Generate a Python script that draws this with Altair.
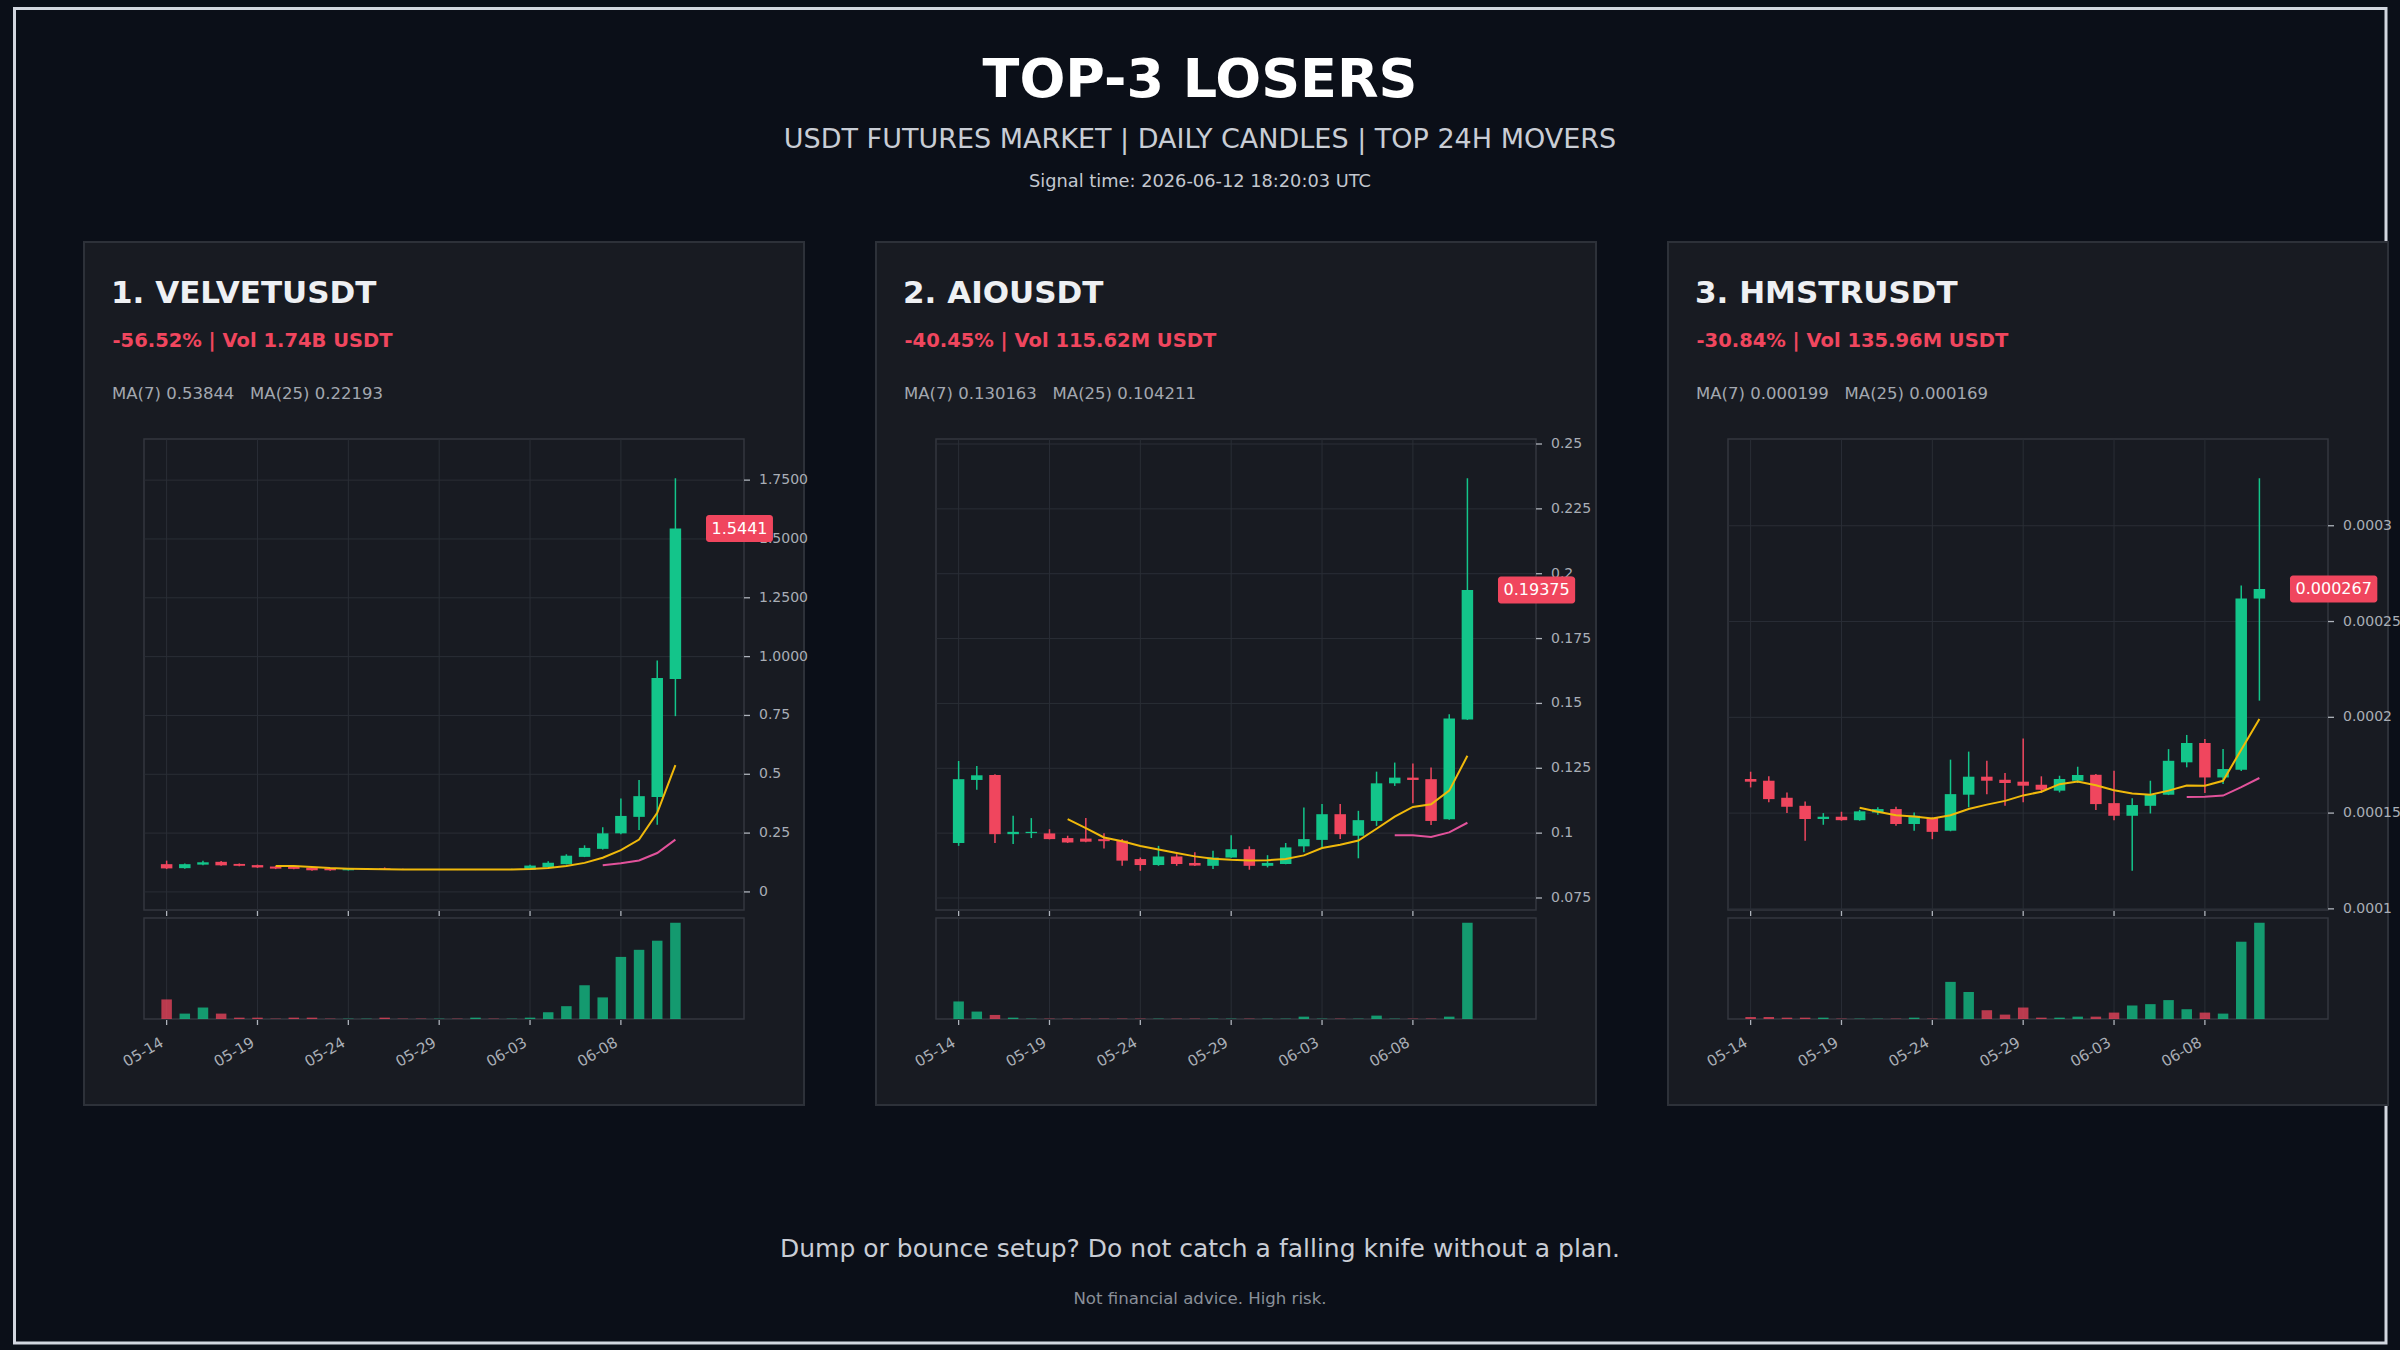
import altair as alt
import numpy as np
import pandas as pd

W, H = 2400, 1350
FONT = "DejaVu Sans"

# ---------------- text ----------------
TITLE = "TOP-3 LOSERS"
SUBTITLE = "USDT FUTURES MARKET | DAILY CANDLES | TOP 24H MOVERS"
SIGNAL_TIME = "Signal time: 2026-06-12 18:20:03 UTC"
FOOTER = "Dump or bounce setup? Do not catch a falling knife without a plan."
DISCLAIMER = "Not financial advice. High risk."

SYMBOLS = ["1. VELVETUSDT", "2. AIOUSDT", "3. HMSTRUSDT"]
CHANGE_TEXT = ["-56.52% | Vol 1.74B USDT", "-40.45% | Vol 115.62M USDT", "-30.84% | Vol 135.96M USDT"]
MA_TEXT = ["MA(7) 0.53844\u00a0\u00a0\u00a0MA(25) 0.22193",
           "MA(7) 0.130163\u00a0\u00a0\u00a0MA(25) 0.104211",
           "MA(7) 0.000199\u00a0\u00a0\u00a0MA(25) 0.000169"]
LAST_PRICE = ["1.5441", "0.19375", "0.000267"]

# ---------------- categories / ticks ----------------
DATES = list(pd.date_range("2026-05-14", periods=29).strftime("%Y-%m-%dT00:00:00"))
X_TICKS = ["2026-05-14", "2026-05-19", "2026-05-24", "2026-05-29", "2026-06-03", "2026-06-08"]
X_TICK_LABELS = ["05-14", "05-19", "05-24", "05-29", "06-03", "06-08"]

Y_TICKS_1 = [0, 0.25, 0.5, 0.75, 1.0, 1.25, 1.5, 1.75]
Y_LABELS_1 = ["0", "0.25", "0.5", "0.75", "1.0000", "1.2500", "1.5000", "1.7500"]
Y_TICKS_2 = [0.075, 0.1, 0.125, 0.15, 0.175, 0.2, 0.225, 0.25]
Y_LABELS_2 = ["0.075", "0.1", "0.125", "0.15", "0.175", "0.2", "0.225", "0.25"]
Y_TICKS_3 = [0.0001, 0.00015, 0.0002, 0.00025, 0.0003]
Y_LABELS_3 = ["0.0001", "0.00015", "0.0002", "0.00025", "0.0003"]

# ---------------- VELVETUSDT ----------------
OPEN_1 = [0.118, 0.101, 0.116, 0.128, 0.119, 0.114, 0.108, 0.107, 0.103, 0.100,
          0.092, 0.096, 0.100, 0.097, 0.095, 0.094, 0.095, 0.094, 0.096, 0.095,
          0.094, 0.105, 0.118, 0.149, 0.183, 0.249, 0.319, 0.403, 0.905]
HIGH_1 = [0.133, 0.121, 0.132, 0.131, 0.121, 0.116, 0.110, 0.109, 0.105, 0.102,
          0.099, 0.101, 0.104, 0.098, 0.096, 0.097, 0.096, 0.097, 0.097, 0.098,
          0.115, 0.130, 0.160, 0.198, 0.275, 0.397, 0.476, 0.983, 1.758]
LOW_1 = [0.097, 0.099, 0.113, 0.111, 0.109, 0.102, 0.097, 0.096, 0.090, 0.090,
         0.091, 0.095, 0.095, 0.094, 0.093, 0.093, 0.093, 0.093, 0.094, 0.094,
         0.093, 0.104, 0.117, 0.148, 0.180, 0.245, 0.263, 0.285, 0.747]
CLOSE_1 = [0.100, 0.118, 0.126, 0.113, 0.111, 0.104, 0.099, 0.098, 0.092, 0.092,
           0.097, 0.099, 0.096, 0.095, 0.094, 0.095, 0.094, 0.096, 0.095, 0.096,
           0.112, 0.124, 0.154, 0.187, 0.249, 0.323, 0.407, 0.909, 1.5441]
VOL_1 = [58, 16, 34, 16, 4, 4, 1, 4, 4, 1, 1, 1, 4, 1, 1, 1, 1, 4, 1, 1,
         4, 20, 38, 100, 64, 184, 205, 232, 285]

# ---------------- AIOUSDT ----------------
OPEN_2 = [0.0962, 0.1205, 0.1224, 0.0996, 0.1000, 0.0999, 0.0981, 0.0979, 0.0977, 0.0971,
          0.0900, 0.0877, 0.0910, 0.0885, 0.0874, 0.0906, 0.0938, 0.0874, 0.0881, 0.0949,
          0.0974, 0.1073, 0.0990, 0.1047, 0.1192, 0.1214, 0.1208, 0.1054, 0.1438]
HIGH_2 = [0.1278, 0.1259, 0.1227, 0.1067, 0.1058, 0.1015, 0.0990, 0.1058, 0.1000, 0.0977,
          0.0906, 0.0951, 0.0919, 0.0926, 0.0932, 0.0992, 0.0949, 0.0915, 0.0962, 0.1099,
          0.1112, 0.1112, 0.1086, 0.1237, 0.1272, 0.1268, 0.1253, 0.1458, 0.2368]
LOW_2 = [0.0951, 0.1167, 0.0962, 0.0958, 0.0981, 0.0976, 0.0962, 0.0965, 0.0941, 0.0874,
         0.0855, 0.0874, 0.0874, 0.0873, 0.0862, 0.0905, 0.0859, 0.0868, 0.0880, 0.0926,
         0.0945, 0.0977, 0.0903, 0.1028, 0.1182, 0.1115, 0.1031, 0.1052, 0.1436]
CLOSE_2 = [0.1208, 0.1223, 0.0996, 0.1005, 0.1005, 0.0977, 0.0964, 0.0967, 0.0969, 0.0894,
           0.0877, 0.0910, 0.0881, 0.0875, 0.0906, 0.0938, 0.0874, 0.0885, 0.0945, 0.0977,
           0.1073, 0.0996, 0.1050, 0.1192, 0.1214, 0.1205, 0.1047, 0.1442, 0.19375]
VOL_2 = [52, 22, 12, 4, 1, 1, 1, 1, 1, 1, 1, 1, 1, 1, 1, 1, 1, 1, 1, 7,
         1, 1, 1, 10, 1, 1, 1, 7, 285]

# ---------------- HMSTRUSDT ----------------
OPEN_3 = [0.0001678, 0.0001669, 0.0001580, 0.0001538, 0.0001469, 0.0001481, 0.0001463, 0.0001503,
          0.0001521, 0.0001443, 0.0001474, 0.0001408, 0.0001596, 0.0001690, 0.0001674, 0.0001664,
          0.0001648, 0.0001617, 0.0001669, 0.0001700, 0.0001552, 0.0001486, 0.0001538, 0.0001596,
          0.0001765, 0.0001866, 0.0001686, 0.0001726, 0.0002620]
HIGH_3 = [0.0001716, 0.0001692, 0.0001608, 0.0001561, 0.0001500, 0.0001507, 0.0001517, 0.0001530,
          0.0001533, 0.0001503, 0.0001478, 0.0001779, 0.0001821, 0.0001773, 0.0001709, 0.0001890,
          0.0001692, 0.0001695, 0.0001742, 0.0001704, 0.0001721, 0.0001577, 0.0001669, 0.0001834,
          0.0001908, 0.0001887, 0.0001834, 0.0002688, 0.0003248]
LOW_3 = [0.0001634, 0.0001556, 0.0001500, 0.0001355, 0.0001439, 0.0001460, 0.0001460, 0.0001491,
         0.0001434, 0.0001408, 0.0001364, 0.0001405, 0.0001530, 0.0001599, 0.0001538, 0.0001556,
         0.0001605, 0.0001608, 0.0001657, 0.0001516, 0.0001463, 0.0001199, 0.0001498, 0.0001594,
         0.0001739, 0.0001605, 0.0001652, 0.0001720, 0.0002087]
CLOSE_3 = [0.0001664, 0.0001573, 0.0001533, 0.0001469, 0.0001481, 0.0001463, 0.0001509, 0.0001521,
           0.0001443, 0.0001486, 0.0001402, 0.0001599, 0.0001690, 0.0001669, 0.0001657, 0.0001643,
           0.0001622, 0.0001678, 0.0001699, 0.0001547, 0.0001486, 0.0001542, 0.0001596, 0.0001773,
           0.0001866, 0.0001686, 0.0001730, 0.0002620, 0.000267]
VOL_3 = [6, 6, 4, 4, 4, 1, 1, 1, 1, 4, 1, 110, 80, 26, 13, 34, 4, 4, 7, 7,
         19, 40, 44, 56, 29, 19, 16, 229, 285]

# ---------------- style / layout ----------------
BG = "#0b0f18"
PANEL_BG = "#181b22"
PANEL_STROKE = "#2d3139"
FRAME = "#d3d7e0"
GRID = "#2a2e36"
SPINE = "#33373f"
TICK = "#aeb3bb"
AXIS_LABEL = "#a9aeb6"
UP = "#13c58a"
DOWN = "#f0465e"
MA7_COLOR = "#f0b90b"
MA25_COLOR = "#e2529b"

PANEL_X = [84, 876, 1668]
PANEL_W = 720
PANEL_TOP, PANEL_BOTTOM = 242, 1105
PLOT_L, PLOT_R = 60, 660
PRICE_TOP, PRICE_BOTTOM = 439, 910
VOL_TOP, VOL_BOTTOM = 918, 1019

X_DOMAIN = [alt.DateTime(year=2026, month=5, date=13, hours=0, minutes=43),
            alt.DateTime(year=2026, month=6, date=14, hours=12)]
X_TICK_ISO = [t + "T00:00:00" for t in X_TICKS]

ONE = pd.DataFrame({"k": [0]})


def box(x1, x2, y1, y2, fill, stroke, sw, fill_opacity=1.0):
    return alt.Chart(ONE).mark_rect(fill=fill, fillOpacity=fill_opacity, stroke=stroke,
                                    strokeWidth=sw).encode(
        x=alt.value(x1), x2=alt.value(x2), y=alt.value(y1), y2=alt.value(y2))


def label(text, x, y, size, color, weight="normal", align="center"):
    return alt.Chart(pd.DataFrame({"t": [text]})).mark_text(
        font=FONT, fontSize=size, color=color, fontWeight=weight, align=align,
        baseline="alphabetic").encode(x=alt.value(x), y=alt.value(y), text="t:N")


def build_panel(p, O, HI, LO, C, V, y_ticks, y_labels):
    ox = PANEL_X[p]
    xl, xr = ox + PLOT_L, ox + PLOT_R
    df = pd.DataFrame({"date": DATES, "open": O, "high": HI, "low": LO, "close": C, "volume": V})
    df["dir"] = np.where(df["close"] >= df["open"], "up", "down")
    lo, hi = min(LO), max(HI)
    pad = 0.1 * (hi - lo)
    xs = alt.Scale(domain=X_DOMAIN, range=[xl, xr])
    ys = alt.Scale(domain=[lo - pad, hi + pad], range=[PRICE_BOTTOM, PRICE_TOP], nice=False, zero=False)
    vs = alt.Scale(domain=[0, max(V) * 1.05], range=[VOL_BOTTOM, VOL_TOP], nice=False, zero=False)
    col = alt.Color("dir:N", scale=alt.Scale(domain=["up", "down"], range=[UP, DOWN]), legend=None)
    X = alt.X("date:T", scale=xs, axis=None)
    XT = alt.X("d:T", scale=xs, axis=None)
    base = alt.Chart(df)
    ticks_df = pd.DataFrame({"d": X_TICK_ISO, "lab": X_TICK_LABELS})
    yt_df = pd.DataFrame({"v": y_ticks, "lab": y_labels})
    tick_chart = alt.Chart(ticks_df)

    # ---- price pane ----
    xgrid_p = tick_chart.mark_rule(color=GRID, strokeWidth=1).encode(
        x=XT, y=alt.value(PRICE_TOP), y2=alt.value(PRICE_BOTTOM))
    xtick_p = tick_chart.mark_rule(color=TICK, strokeWidth=1.3).encode(
        x=XT, y=alt.value(PRICE_BOTTOM + 1), y2=alt.value(PRICE_BOTTOM + 6))
    ygrid = alt.Chart(yt_df).mark_rule(color=GRID, strokeWidth=1).encode(
        y=alt.Y("v:Q", scale=ys, axis=None), x=alt.value(xl), x2=alt.value(xr))
    ytick = alt.Chart(yt_df).mark_rule(color=TICK, strokeWidth=1.3).encode(
        y=alt.Y("v:Q", scale=ys, axis=None), x=alt.value(xr), x2=alt.value(xr + 6))
    ylab = alt.Chart(yt_df).mark_text(font=FONT, fontSize=14, color=AXIS_LABEL, align="left",
                                       baseline="middle").encode(
        y=alt.Y("v:Q", scale=ys, axis=None), x=alt.value(xr + 15), text="lab:N")
    wick = base.mark_rule(strokeWidth=1.5).encode(
        x=X, y=alt.Y("low:Q", scale=ys, axis=None), y2="high:Q", color=col)
    body = base.mark_bar(width=11.5).encode(
        x=X, y=alt.Y("open:Q", scale=ys, axis=None), y2="close:Q", color=col)
    ma7 = base.transform_window(
        ma="mean(close)", n="count()", frame=[-6, 0], sort=[alt.SortField("date")]
    ).transform_filter("datum.n >= 7").mark_line(color=MA7_COLOR, strokeWidth=2).encode(
        x=X, y=alt.Y("ma:Q", scale=ys, axis=None))
    ma25 = base.transform_window(
        ma="mean(close)", n="count()", frame=[-24, 0], sort=[alt.SortField("date")]
    ).transform_filter("datum.n >= 25").mark_line(color=MA25_COLOR, strokeWidth=2).encode(
        x=X, y=alt.Y("ma:Q", scale=ys, axis=None))

    txt = LAST_PRICE[p]
    text_w = 16 * sum(0.318 if ch == "." else 0.636 for ch in txt)
    bx = ox + 622
    last_df = pd.DataFrame({"close": [C[-1]], "label": [txt]})
    lbox = alt.Chart(last_df).mark_rect(color=DOWN, cornerRadius=3, yOffset=-13.5, y2Offset=13.5).encode(
        y=alt.Y("close:Q", scale=ys, axis=None), y2="close:Q",
        x=alt.value(bx), x2=alt.value(bx + text_w + 11))
    ltext = alt.Chart(last_df).mark_text(font=FONT, fontSize=16, color="#ffffff", align="left",
                                         baseline="middle").encode(
        y=alt.Y("close:Q", scale=ys, axis=None), x=alt.value(bx + 5.5), text="label:N")
    price = alt.layer(ygrid, xgrid_p, xtick_p, ytick, ylab, wick, body, ma7, ma25, lbox, ltext)

    # ---- volume pane ----
    xgrid_v = tick_chart.mark_rule(color=GRID, strokeWidth=1).encode(
        x=XT, y=alt.value(VOL_TOP), y2=alt.value(VOL_BOTTOM))
    xtick_v = tick_chart.mark_rule(color=TICK, strokeWidth=1.3).encode(
        x=XT, y=alt.value(VOL_BOTTOM + 1), y2=alt.value(VOL_BOTTOM + 6))
    xlab = tick_chart.mark_text(font=FONT, fontSize=15, color=AXIS_LABEL, align="right",
                                baseline="top", angle=330, xOffset=-8).encode(
        x=XT, y=alt.value(VOL_BOTTOM + 16), text="lab:N")
    vbars = base.mark_bar(width=10.5, opacity=0.75).encode(
        x=X, y=alt.Y("volume:Q", scale=vs, axis=None), color=col)
    volume = alt.layer(xgrid_v, xtick_v, xlab, vbars)

    return [
        box(xl, xr, PRICE_TOP, PRICE_BOTTOM, PANEL_BG, SPINE, 1.5, 0),
        box(xl, xr, VOL_TOP, VOL_BOTTOM, PANEL_BG, SPINE, 1.5, 0),
        label(SYMBOLS[p], ox + 27, 303, 31, "#eef0f3", "bold", "left"),
        label(CHANGE_TEXT[p], ox + 28.5, 347, 19.5, DOWN, "bold", "left"),
        label(MA_TEXT[p], ox + 28, 399, 16.5, "#a3a8b0", "normal", "left"),
        price,
        volume,
    ]


layers = [box(14.5, 2386, 8.5, 1343, BG, FRAME, 3)]
for px in PANEL_X:
    layers.append(box(px, px + PANEL_W, PANEL_TOP, PANEL_BOTTOM, PANEL_BG, PANEL_STROKE, 2))
layers += [
    label(TITLE, 1200, 97, 54, "#ffffff", "bold"),
    label(SUBTITLE, 1200, 148, 27, "#c9cdd5"),
    label(SIGNAL_TIME, 1200, 187, 17.8, "#c3c7cf"),
    label(FOOTER, 1200, 1257, 25, "#c9cdd5"),
    label(DISCLAIMER, 1200, 1304, 16.6, "#8a8f99"),
]
layers += build_panel(0, OPEN_1, HIGH_1, LOW_1, CLOSE_1, VOL_1, Y_TICKS_1, Y_LABELS_1)
layers += build_panel(1, OPEN_2, HIGH_2, LOW_2, CLOSE_2, VOL_2, Y_TICKS_2, Y_LABELS_2)
layers += build_panel(2, OPEN_3, HIGH_3, LOW_3, CLOSE_3, VOL_3, Y_TICKS_3, Y_LABELS_3)

chart = alt.layer(*layers).resolve_scale(
    x="independent", y="independent", color="independent"
).properties(
    width=W, height=H, background=BG, padding=0,
    autosize=alt.AutoSizeParams(type="none"),
).configure_view(stroke=None)

chart.save("out.html", embed_options={"renderer": "svg", "actions": False})
